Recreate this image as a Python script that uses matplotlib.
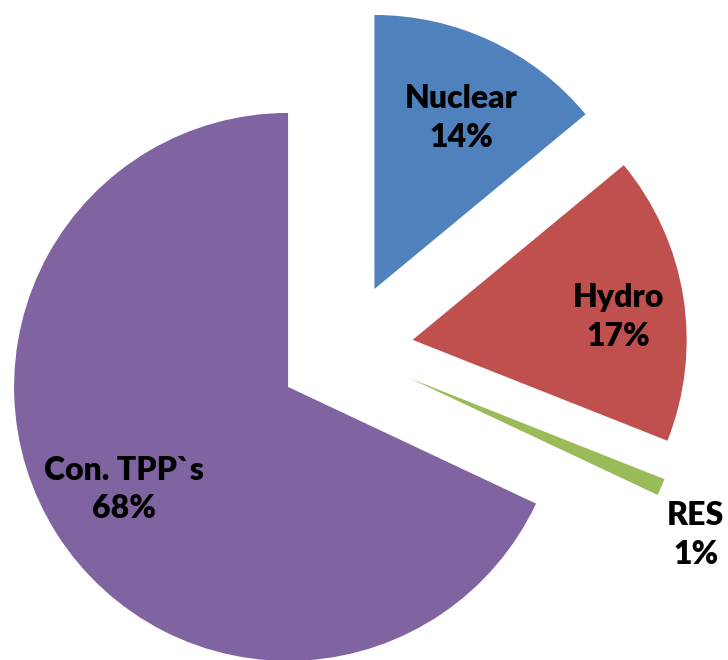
import numpy as np
import matplotlib
matplotlib.use("Agg")
import matplotlib.pyplot as plt

plt.rcParams["font.family"] = ["Lato", "DejaVu Sans"]

# share of generation by source (%)
labels = ["Nuclear", "Hydro", "RES", "Con. TPP`s"]
shares = [14, 17, 1, 68]
colors = ["#4F81BD", "#C0504D", "#9BBB59", "#8064A2"]

fig = plt.figure(figsize=(7.28, 6.6), dpi=100)
ax = fig.add_axes([0, 0, 1, 1])

# explode is in data units here (pixels)
wedges, _ = ax.pie(shares, colors=colors, startangle=90, counterclock=False,
                   radius=274, center=(345.5, 309.5), explode=[68, 68, 70, 68],
                   wedgeprops=dict(linewidth=0), frame=True)
ax.set_xlim(0, 728)
ax.set_ylim(0, 660)
ax.set_aspect("equal")
ax.axis("off")

# label distance (fraction of radius) and angle tweak (deg), from each wedge's apex
lab_dist = [0.70, 0.755, 1.19, 0.705]
lab_turn = [-1.8, -2.6, -5.3, -0.4]
for w, lab, val, d, t in zip(wedges, labels, shares, lab_dist, lab_turn):
    th = np.deg2rad((w.theta1 + w.theta2) / 2 + t)
    cx, cy = w.center
    ax.text(cx + d * w.r * np.cos(th), cy + d * w.r * np.sin(th),
            f"{lab}\n{val}%", ha="center", va="center", fontsize=23,
            fontweight="heavy", color="black", linespacing=1.4)

fig.savefig("out.png", dpi=100)
